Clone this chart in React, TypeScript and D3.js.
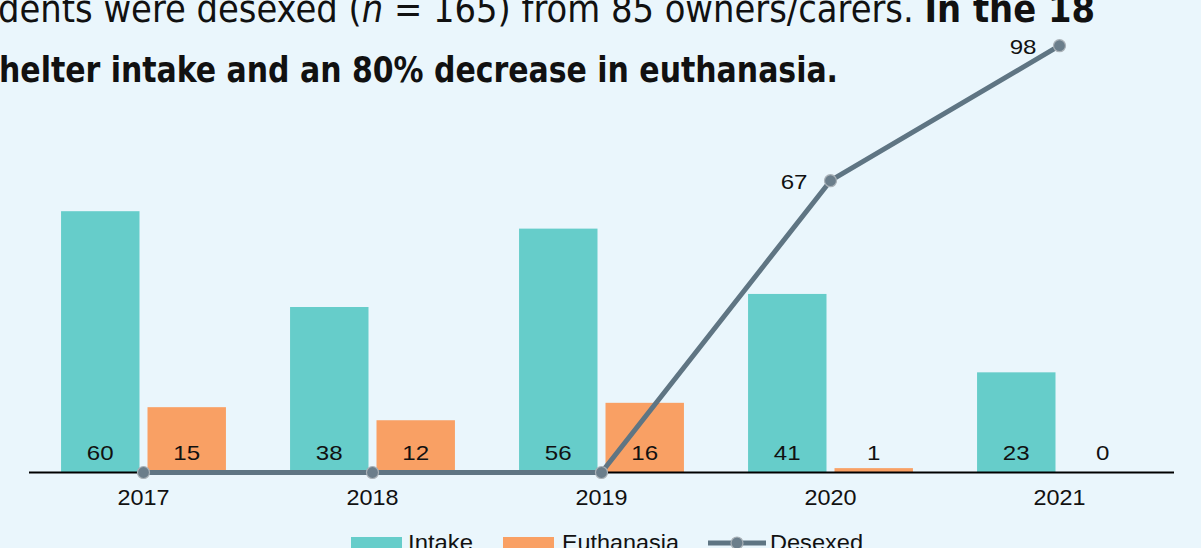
import React from "react";
import * as d3 from "d3";

const years = ["2017", "2018", "2019", "2020", "2021"];
const intake = [60, 38, 56, 41, 23];
const euthanasia = [15, 12, 16, 1, 0];
const desexed = [0, 0, 0, 67, 98];
const seriesNames = ["Intake", "Euthanasia", "Desexed"];

const W = 1201;
const H = 548;
const BG = "#EAF6FC";
const TEAL = "#66CDCA";
const ORANGE = "#F9A064";
const LINE = "#5F7583";
const FONT = "'Liberation Sans', Arial, sans-serif";
const TFONT = "'Liberation Sans Narrow', 'DejaVu Sans Condensed', 'Open Sans', sans-serif";
const DIGIT = 13.4; // rendered width per digit (text is horizontally stretched in the reference)

export default function App() {
  const x = d3.scaleBand<string>().domain(years).range([29, 1174]).paddingInner(0).paddingOuter(0);
  const bw = x.bandwidth();
  const pad = bw * 0.14;
  const gap = 8;
  const barW = (bw - 2 * pad - gap) / 2;
  const y = d3.scaleLinear().domain([0, 100]).range([472.5, 37]);
  const cx = (d: string) => (x(d) as number) + bw / 2;
  const line = d3
    .line<number>()
    .x((_, i) => cx(years[i]))
    .y((d) => y(d));

  const num = (s: string | number) => String(s).length * DIGIT;

  return (
    <svg
      width={W}
      height={H}
      style={{ position: "absolute", left: 0, top: 0, display: "block" }}
    >
      <rect x={0} y={0} width={W} height={H} fill={BG} />
      <text x={-2} y={22} fontFamily={TFONT} fontSize={37} fill="#111" textLength={1097} lengthAdjust="spacingAndGlyphs">
        <tspan>dents were desexed (</tspan>
        <tspan fontStyle="italic">n</tspan>
        <tspan> = 165) from 85 owners/carers.  </tspan>
        <tspan fontWeight="bold">In the 18</tspan>
      </text>
      <text x={-1} y={82} fontFamily={TFONT} fontSize={36} fontWeight="bold" fill="#111" textLength={839} lengthAdjust="spacingAndGlyphs">
        helter intake and an 80% decrease in euthanasia.
      </text>

      {years.map((yr, i) => (
        <g key={yr}>
          <rect x={(x(yr) as number) + pad} y={y(intake[i])} width={barW} height={y(0) - y(intake[i])} fill={TEAL} />
          <rect
            x={(x(yr) as number) + pad + barW + gap}
            y={Math.min(y(euthanasia[i]), y(0) - (euthanasia[i] > 0 ? 3 : 0))}
            width={barW}
            height={euthanasia[i] > 0 ? Math.max(3, y(0) - y(euthanasia[i])) : 0}
            fill={ORANGE}
          />
        </g>
      ))}

      <line x1={29} x2={1174} y1={y(0)} y2={y(0)} stroke="#000" strokeWidth={2} />

      <path d={line(desexed) || ""} fill="none" stroke={LINE} strokeWidth={5} strokeLinejoin="round" />
      {desexed.map((d, i) => (
        <circle key={i} cx={cx(years[i])} cy={y(d)} r={6} fill="#6B7E8B" stroke="#A9B1B7" strokeWidth={1.2} />
      ))}
      {desexed.map((d, i) =>
        d > 0 ? (
          <text
            key={i}
            x={cx(years[i]) - 23 - num(d)}
            y={y(d) + 1.5}
            dy="0.35em"
            fontFamily={FONT}
            fontSize={20.5}
            fill="#111"
            textLength={num(d)}
            lengthAdjust="spacingAndGlyphs"
          >
            {d}
          </text>
        ) : null
      )}

      {years.map((yr, i) => {
        const xi = (x(yr) as number) + pad + barW / 2;
        const xe = (x(yr) as number) + pad + barW + gap + barW / 2;
        return (
          <g key={yr + "l"} fontFamily={FONT} fill="#111">
            <text x={xi - num(intake[i]) / 2} y={452.5} dy="0.35em" fontSize={21} textLength={num(intake[i])} lengthAdjust="spacingAndGlyphs">
              {intake[i]}
            </text>
            <text x={xe - num(euthanasia[i]) / 2} y={452.5} dy="0.35em" fontSize={21} textLength={num(euthanasia[i])} lengthAdjust="spacingAndGlyphs">
              {euthanasia[i]}
            </text>
            <text x={cx(yr) - 26} y={497} dy="0.35em" fontSize={22} textLength={52} lengthAdjust="spacingAndGlyphs">
              {yr}
            </text>
          </g>
        );
      })}

      <g fontFamily={FONT} fontSize={22} fill="#111">
        <rect x={351} y={537} width={51} height={14} fill={TEAL} />
        <text x={408} y={550} textLength={65} lengthAdjust="spacingAndGlyphs">{seriesNames[0]}</text>
        <rect x={503} y={537} width={51} height={14} fill={ORANGE} />
        <text x={562} y={550} textLength={117} lengthAdjust="spacingAndGlyphs">{seriesNames[1]}</text>
        <line x1={708} x2={766} y1={543} y2={543} stroke={LINE} strokeWidth={5} />
        <circle cx={737} cy={543} r={6} fill="#6B7E8B" stroke="#A9B1B7" strokeWidth={1.2} />
        <text x={770} y={550} textLength={93} lengthAdjust="spacingAndGlyphs">{seriesNames[2]}</text>
      </g>
    </svg>
  );
}
